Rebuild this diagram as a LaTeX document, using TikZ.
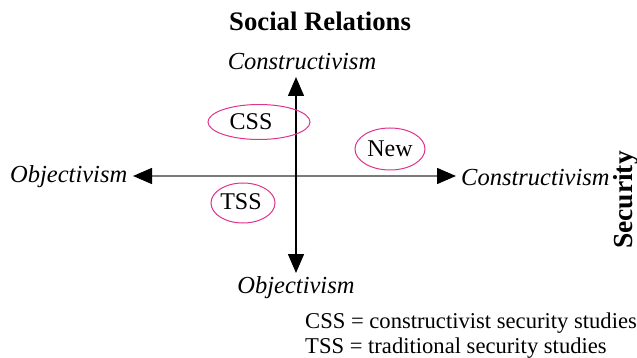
\documentclass[tikz,border=0pt]{standalone}
\usepackage{fontspec}
\setmainfont{Liberation Serif}
\usetikzlibrary{arrows.meta,shapes.geometric}
\definecolor{ringpink}{HTML}{E0338C}
\definecolor{axisgrey}{HTML}{7A7A7A}
\tikzset{
  axis/.style={line width=1.4pt,-{Triangle[length=19pt,width=16pt,color=black]}},
  ring/.style={ellipse,draw=ringpink,line width=1pt,inner sep=0pt},
  tag/.style={font=\fontsize{24}{27}\selectfont,inner sep=0pt},
  label/.style={font=\fontsize{24.5}{27}\selectfont\itshape,inner sep=0pt},
  plain/.style={font=\fontsize{22.6}{25}\selectfont,inner sep=0pt},
  heading/.style={font=\fontsize{26.7}{30}\selectfont\bfseries,inner sep=0pt},
}
\begin{document}
\begin{tikzpicture}[x=1pt,y=-1pt]
\useasboundingbox (0,0) rectangle (637,358);
% origin of the axes
\coordinate (o) at (296,176);
\coordinate (top) at (296,77);
\coordinate (bot) at (296,273);
\coordinate (left) at (133,176);
\coordinate (right) at (456,176);
% axes
\draw[axis,draw=axisgrey] (o) -- (right);
\draw[axis,draw=axisgrey] (o) -- (left);
\draw[axis,draw=black] (o) -- (top);
\draw[axis,draw=black] (o) -- (bot);
% axis labels
\node[heading,anchor=base west] (sr) at (229,31) {Social Relations};
\node[label] (ctop) at (302,62) {Constructivism};
\node[label] (obot) at (296,288) {Objectivism};
\node[label,anchor=west] (oleft) at (10,177) {Objectivism};
\node[label,anchor=west] (cright) at (461,178) {Constructivism};
\node[heading,font=\fontsize{27.5}{30}\selectfont\bfseries,rotate=90,anchor=base] (sec) at (632,200) {Security};
% quadrant rings
\node[ring,minimum width=102pt,minimum height=35pt] (css) at (259,122) {};
\node[ring,minimum width=70pt,minimum height=42pt] (new) at (390,149) {};
\node[ring,minimum width=64pt,minimum height=40pt] (tss) at (243,203) {};
\node[tag] (csst) at (251,122) {CSS};
\node[tag] (newt) at (390,149) {New};
\node[tag] (tsst) at (241,202) {TSS};
% key
\node[plain,anchor=base west] (k1) at (305,328) {CSS = constructivist security studies};
\node[plain,anchor=base west] (k2) at (305,353) {TSS = traditional security studies};
\end{tikzpicture}
\end{document}
